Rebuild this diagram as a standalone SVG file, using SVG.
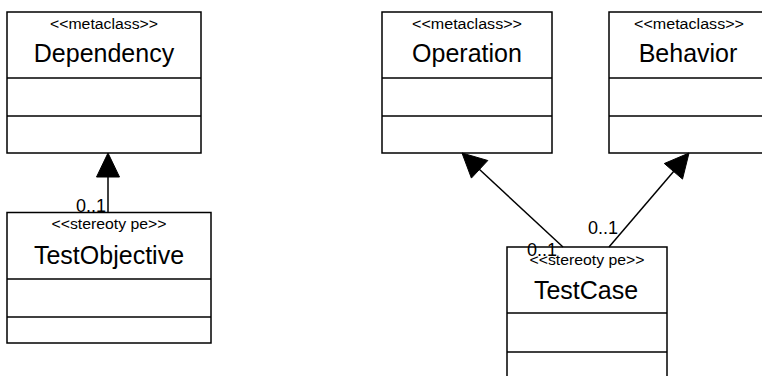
<svg xmlns="http://www.w3.org/2000/svg" width="762" height="376" viewBox="0 0 762 376">
<style>
.box{fill:#fff;stroke:#000;stroke-width:1.5}
.div{stroke:#000;stroke-width:1.5}
.st{font-family:"Liberation Sans",Arial,sans-serif;font-size:14px;text-anchor:middle;fill:#000}
.nm{font-family:"Liberation Sans",Arial,sans-serif;font-size:25px;text-anchor:middle;fill:#000}
.ml{font-family:"Liberation Sans",Arial,sans-serif;font-size:18px;fill:#000}
.ln{stroke:#000;stroke-width:1.5;fill:none}
.ah{fill:#000;stroke:#000;stroke-width:1}
</style>
<g id="Dependency">
<rect class="box" x="7" y="12" width="194" height="141"/>
<line class="div" x1="7" y1="78" x2="201" y2="78"/>
<line class="div" x1="7" y1="116" x2="201" y2="116"/>
<text class="st" x="104" y="29" textLength="108" lengthAdjust="spacingAndGlyphs">&lt;&lt;metaclass&gt;&gt;</text>
<text class="nm" x="104" y="62">Dependency</text>
</g>
<g id="Operation">
<rect class="box" x="382" y="12" width="170" height="141"/>
<line class="div" x1="382" y1="78" x2="552" y2="78"/>
<line class="div" x1="382" y1="116" x2="552" y2="116"/>
<text class="st" x="467" y="29" textLength="110" lengthAdjust="spacingAndGlyphs">&lt;&lt;metaclass&gt;&gt;</text>
<text class="nm" x="467" y="62">Operation</text>
</g>
<g id="Behavior">
<rect class="box" x="609" y="12" width="159" height="141"/>
<line class="div" x1="609" y1="78" x2="768" y2="78"/>
<line class="div" x1="609" y1="116" x2="768" y2="116"/>
<text class="st" x="689" y="29" textLength="110" lengthAdjust="spacingAndGlyphs">&lt;&lt;metaclass&gt;&gt;</text>
<text class="nm" x="688" y="62">Behavior</text>
</g>
<g id="TestObjective">
<rect class="box" x="7" y="212.5" width="204" height="130.5"/>
<line class="div" x1="7" y1="279" x2="211" y2="279"/>
<line class="div" x1="7" y1="317" x2="211" y2="317"/>
<text class="st" x="109" y="229" textLength="115" lengthAdjust="spacingAndGlyphs">&lt;&lt;stereoty pe&gt;&gt;</text>
<text class="nm" x="109" y="264">TestObjective</text>
</g>
<g id="TestCase">
<rect class="box" x="507" y="247" width="160" height="141"/>
<line class="div" x1="507" y1="313" x2="667" y2="313"/>
<line class="div" x1="507" y1="352" x2="667" y2="352"/>
<text class="st" x="587" y="265" textLength="115" lengthAdjust="spacingAndGlyphs">&lt;&lt;stereoty pe&gt;&gt;</text>
<text class="nm" x="586" y="299">TestCase</text>
</g>
<g id="connectors">
<line class="ln" x1="108" y1="212" x2="108" y2="176"/>
<polygon class="ah" points="108,153 96.5,177 119.5,177"/>
<text class="ml" x="76" y="212">0..1</text>
<line class="ln" x1="563" y1="247" x2="479" y2="169"/>
<polygon class="ah" points="462,153 487.8,160.5 471.4,178.1"/>
<text class="ml" x="527" y="256">0..1</text>
<line class="ln" x1="609" y1="247" x2="674" y2="171"/>
<polygon class="ah" points="689,153 682.5,179.1 664.3,163.5"/>
<text class="ml" x="588" y="234">0..1</text>
</g>
</svg>
